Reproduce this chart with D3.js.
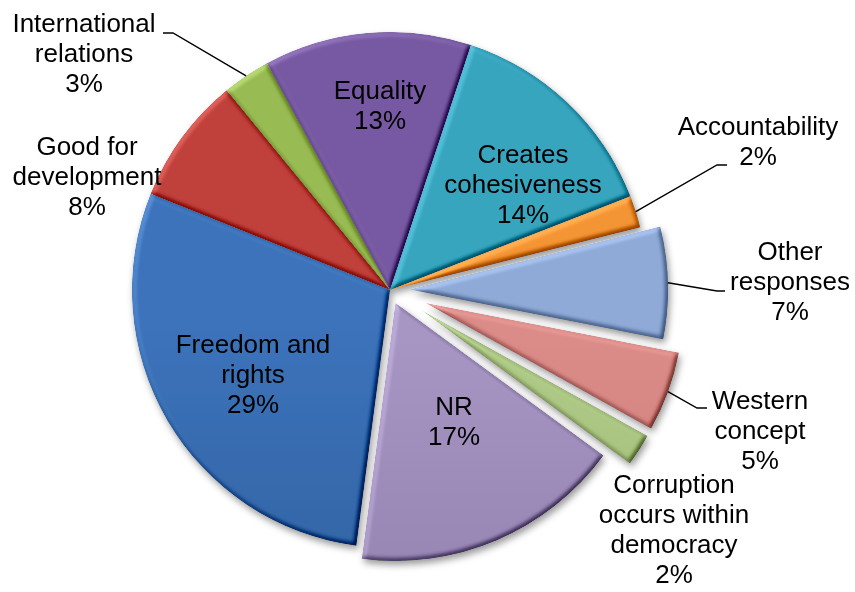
<!DOCTYPE html>
<html>
<head>
<meta charset="utf-8">
<script src="https://cdn.jsdelivr.net/npm/d3@7/dist/d3.min.js"></script>
<style>
  html, body { margin: 0; padding: 0; background: #fff; }
  svg { display: block; }
  text { font-family: "Liberation Sans", Arial, sans-serif; font-size: 26px; fill: #000; }
</style>
</head>
<body>
<svg id="chart" width="855" height="592"></svg>
<script>
// Survey responses: what democracy means (share of answers, %)
const categories = [
  "Freedom and rights",
  "Good for development",
  "International relations",
  "Equality",
  "Creates cohesiveness",
  "Accountability",
  "Other responses",
  "Western concept",
  "Corruption occurs within democracy",
  "NR"
];
const values = [29, 8, 3, 13, 14, 2, 7, 5, 2, 17];

// Wrapped label lines for each category
const labelLines = [
  ["Freedom and", "rights"],
  ["Good for", "development"],
  ["International", "relations"],
  ["Equality"],
  ["Creates", "cohesiveness"],
  ["Accountability"],
  ["Other", "responses"],
  ["Western", "concept"],
  ["Corruption", "occurs within", "democracy"],
  ["NR"]
];

// Gradient palette (top, bottom) per slice
const palette = [
  ["#3c73bb", "#2b568f"],
  ["#c0403b", "#9e2f2c"],
  ["#99bb53", "#82a343"],
  ["#7759a2", "#634a8a"],
  ["#38a5bf", "#2b8aa3"],
  ["#f49536", "#e48029"],
  ["#8faad6", "#768ebd"],
  ["#db8c88", "#c0716e"],
  ["#b0ca87", "#93ad6b"],
  ["#a796c4", "#85749f"]
];

// Pull-out distance of exploded slices, px
const explodeBy = [0, 0, 0, 0, 0, 0, 20, 38, 38, 14];

// Label placement: centre x, first baseline y; optional leader (label end, elbow)
const labelLayout = [
  { x: 253, y: 353 },
  { x: 87, y: 155 },
  { x: 84, y: 32, leader: [[163, 33], [173, 33]] },
  { x: 380, y: 99 },
  { x: 523, y: 163 },
  { x: 758, y: 135, leader: [[727, 165], [717, 165]] },
  { x: 790, y: 260, leader: [[725, 291], [717, 291]] },
  { x: 760, y: 409, leader: [[707, 408], [697, 408]] },
  { x: 674, y: 493 },
  { x: 454, y: 415 }
];

const cx = 390, cy = 290, radius = 258, lineHeight = 30;
const startDeg = 187.5;

const svg = d3.select("#chart");
const defs = svg.append("defs");

// Soft drop shadow under the pie
const shadow = defs.append("filter").attr("id", "shadow")
  .attr("x", "-10%").attr("y", "-10%").attr("width", "130%").attr("height", "130%");
shadow.append("feDropShadow")
  .attr("dx", 2).attr("dy", 4).attr("stdDeviation", 3.5)
  .attr("flood-color", "#000").attr("flood-opacity", 0.4);

// Bevelled edges: diffuse lighting over the blurred slice shape
const bevel = defs.append("filter").attr("id", "bevel")
  .attr("color-interpolation-filters", "sRGB")
  .attr("x", "-5%").attr("y", "-5%").attr("width", "110%").attr("height", "110%");
bevel.append("feGaussianBlur").attr("in", "SourceAlpha").attr("stdDeviation", 2.6).attr("result", "blur");
const diff = bevel.append("feDiffuseLighting")
  .attr("in", "blur").attr("surfaceScale", 3.5).attr("diffuseConstant", 1)
  .attr("lighting-color", "#fff").attr("result", "light");
diff.append("feDistantLight").attr("azimuth", 225).attr("elevation", 50);
bevel.append("feComposite")
  .attr("in", "SourceGraphic").attr("in2", "light")
  .attr("operator", "arithmetic")
  .attr("k1", 0).attr("k2", 1).attr("k3", 0.5).attr("k4", -0.5 * Math.sin(50 * Math.PI / 180))
  .attr("result", "lit");
bevel.append("feComposite").attr("in", "lit").attr("in2", "SourceAlpha").attr("operator", "in");

// Vertical gradient for each slice, spanning the whole pie
palette.forEach((p, i) => {
  const g = defs.append("linearGradient").attr("id", "grad" + i)
    .attr("gradientUnits", "userSpaceOnUse")
    .attr("x1", 0).attr("y1", cy - radius).attr("x2", 0).attr("y2", cy + radius);
  g.append("stop").attr("offset", "0%").attr("stop-color", p[0]);
  g.append("stop").attr("offset", "100%").attr("stop-color", p[1]);
});

const data = categories.map((c, i) => ({ name: c, value: values[i], index: i }));

const pie = d3.pie()
  .value(d => d.value)
  .sort(null)
  .startAngle(startDeg * Math.PI / 180)
  .endAngle((startDeg + 360) * Math.PI / 180);

const arcs = pie(data);
const arc = d3.arc().innerRadius(0).outerRadius(radius);

function offsetOf(a) {
  const mid = (a.startAngle + a.endAngle) / 2;
  const e = explodeBy[a.index];
  return [e * Math.sin(mid), -e * Math.cos(mid)];
}

const pieG = svg.append("g")
  .attr("filter", "url(#shadow)")
  .attr("transform", `translate(${cx},${cy})`);

pieG.selectAll("path")
  .data(arcs)
  .join("path")
  .attr("transform", d => { const o = offsetOf(d); return `translate(${o[0]},${o[1]})`; })
  .attr("d", arc)
  .attr("fill", d => `url(#grad${d.index})`)
  .attr("filter", "url(#bevel)");

// Leader lines from the slice rim to the outside labels
const fmt = d => d3.format(".0f")(d) + "%";
const leaderG = svg.append("g");
arcs.forEach(a => {
  const lay = labelLayout[a.index];
  if (!lay.leader) return;
  const mid = (a.startAngle + a.endAngle) / 2;
  const o = offsetOf(a);
  const rim = [cx + o[0] + radius * Math.sin(mid), cy + o[1] - radius * Math.cos(mid)];
  const pts = [lay.leader[0], lay.leader[1], rim];
  leaderG.append("path")
    .attr("d", d3.line()(pts))
    .attr("fill", "none")
    .attr("stroke", "#000")
    .attr("stroke-width", 1.4);
});

// Category labels with percentages
const labelG = svg.append("g");
arcs.forEach(a => {
  const lay = labelLayout[a.index];
  const lines = labelLines[a.index].concat([fmt(a.data.value)]);
  const t = labelG.append("text")
    .attr("text-anchor", "middle")
    .attr("x", lay.x)
    .attr("y", lay.y);
  lines.forEach((ln, k) => {
    t.append("tspan")
      .attr("x", lay.x)
      .attr("y", lay.y + k * lineHeight)
      .text(ln);
  });
});
</script>
</body>
</html>
